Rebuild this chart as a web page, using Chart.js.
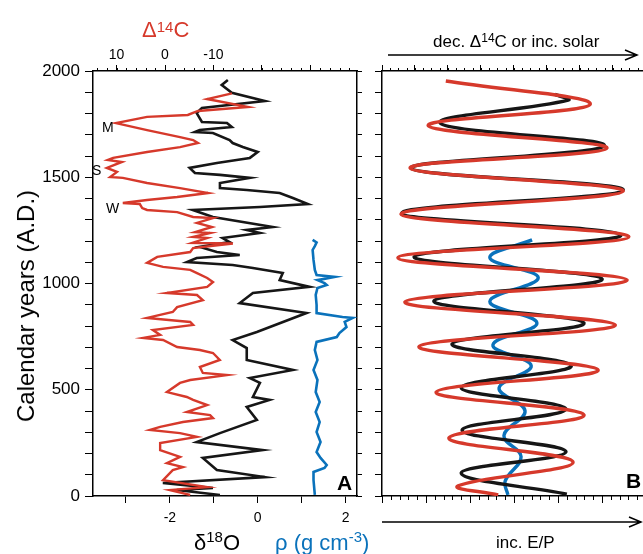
<!DOCTYPE html>
<html>
<head>
<meta charset="utf-8">
<script src="https://cdn.jsdelivr.net/npm/chart.js@4"></script>
<style>
  body { margin: 0; background: #fff; }
  #wrap { position: relative; width: 643px; height: 554px; overflow: hidden;
          font-family: "Liberation Sans", Arial, Helvetica, sans-serif; color: #000; }
  canvas { position: absolute; top: 0; }
  .t { position: absolute; white-space: nowrap; line-height: 1; }
  .sup { position: relative; }
</style>
</head>
<body>
<div id="wrap">
  <canvas id="panelA" width="372" height="554" style="left:0"></canvas>
  <canvas id="panelB" width="271" height="554" style="left:372px"></canvas>

  <div class="t" style="left:142px;top:19px;font-size:22px;color:#d6392b">&Delta;<span class="sup" style="font-size:15px;top:-5px">14</span>C</div>
  <div class="t" style="left:194px;top:532px;font-size:22px">&delta;<span class="sup" style="font-size:15px;top:-8px">18</span>O</div>
  <div class="t" style="left:275px;top:532px;font-size:22px;color:#0a72bb">&rho; (g cm<span class="sup" style="font-size:15px;top:-8px">-3</span>)</div>
  <div class="t" style="left:433px;top:33px;font-size:17px">dec. &Delta;<span class="sup" style="font-size:12px;top:-5px">14</span>C or inc. solar</div>
  <div class="t" style="left:496px;top:534px;font-size:17px">inc. E/P</div>
  <div class="t" style="left:337px;top:472px;font-size:21px;font-weight:bold">A</div>
  <div class="t" style="left:626px;top:470px;font-size:21px;font-weight:bold">B</div>
  <div class="t" style="left:102px;top:120px;font-size:14px">M</div>
  <div class="t" style="left:92px;top:163px;font-size:14px">S</div>
  <div class="t" style="left:106px;top:201px;font-size:14px">W</div>
  <div class="t" style="left:26px;top:306px;font-size:24px;transform:translate(-50%,-50%) rotate(-90deg)">Calendar years (A.D.)</div>
</div>
<script>
// panel A: red Delta14C (top axis), black d18O and blue density (bottom axis)
const redYears = [1895,1868,1831,1812,1793,1784,1755,1722,1689,1675,1661,1642,1619,1591,1581,1572,1544,1525,1501,1497,1473,1449,1426,1407,1393,1379,1374,1355,1346,1336,1313,1308,1285,1266,1242,1238,1219,1214,1191,1188,1167,1148,1125,1097,1078,1064,1049,1026,1007,984,955,946,922,889,866,838,819,805,781,758,744,734,701,687,673,640,607,579,569,546,532,489,466,452,428,395,381,367,348,325,311,296,278,249,216,184,155,136,122,75,42,28,5];
const redD14C = [-13.8,-8.7,-17.1,-6.8,-4.7,3.7,10.1,3.7,-3.1,-5.8,-6.8,-3.1,3.7,10.7,11.8,8.9,12.0,9.9,11.3,8.7,3.7,-3.1,-8.9,-2.5,3.7,8.7,5.2,4.7,3.7,-2.5,-5.8,-9.9,-6.6,-9.7,-6.2,-9.3,-5.8,-8.7,-5.6,-14.0,-5.8,-5.2,1.6,3.7,0.4,-5.2,-6.6,-8.7,-9.9,-8.7,-0.4,-6.6,-7.8,-2.5,-1.6,3.7,-5.2,-5.8,2.5,1.0,4.5,0.4,-2.5,-7.2,-9.9,-11.3,-7.2,-7.8,-12.8,-5.2,-3.1,-0.4,-4.5,-5.8,-8.7,-4.5,-9.3,-9.9,-3.7,1.0,3.1,-3.1,-6.6,1.0,1.0,-3.1,-0.4,-3.7,-1.6,0.4,-8.7,-1.0,-5.2];

const blackYears = [1958,1934,1897,1859,1826,1802,1760,1755,1736,1722,1713,1708,1675,1661,1642,1619,1591,1581,1567,1544,1520,1511,1497,1473,1449,1440,1426,1402,1374,1360,1346,1313,1266,1252,1238,1214,1195,1172,1148,1134,1120,1101,1087,1073,1049,1016,984,955,908,861,772,734,696,640,593,555,532,466,452,419,358,296,254,216,179,122,89,61,38,28,5];
const blackD18O = [-0.68,-0.82,-0.59,0.16,-1.27,-1.39,-1.27,-0.70,-0.59,-1.32,-1.43,-1.02,-0.64,-0.57,-0.34,0.0,-0.18,-0.48,-0.93,-1.55,-1.43,-0.86,-0.18,-0.86,-0.86,-0.25,0.5,0.8,1.14,0.05,-1.48,-1.02,0.34,-0.25,0.05,-0.80,-0.64,-1.32,-0.93,-0.41,-1.39,-1.61,-0.57,-0.11,0.57,0.5,1.18,-0.11,-0.41,1.11,-0.02,-0.57,-0.25,-0.25,0.8,-0.18,0.05,-0.11,0.27,-0.25,-0.02,-0.86,-1.39,0.11,-1.25,-0.93,0.16,-2.16,-1.02,-1.84,-0.86];

const blueYears = [1205,1193,1176,1158,1111,1064,1040,1031,1016,1002,993,979,946,899,861,842,838,819,795,767,748,725,687,640,593,546,489,442,395,348,301,254,207,179,146,132,113,75,5];
const blueRho = [1.25,1.34,1.30,1.25,1.27,1.30,1.34,1.75,1.36,1.52,1.57,1.36,1.32,1.34,1.34,1.93,2.16,1.98,2.02,1.86,1.80,1.34,1.30,1.36,1.27,1.36,1.32,1.41,1.32,1.41,1.34,1.43,1.34,1.43,1.57,1.52,1.27,1.27,1.30];

// panel B: smoothed curves (arbitrary units), turning points
const redBYears = [1953,1843,1743,1637,1543,1435,1327,1220,1121,1016,913,805,703,593,489,381,273,160,48,5];
const redBVal = [1.45,4.73,1.05,5.11,0.64,5.48,0.43,5.61,0.36,5.57,0.52,5.30,0.84,4.91,1.23,4.59,1.52,4.34,1.73,2.64];
const blackBYears = [1890,1863,1755,1648,1543,1440,1332,1228,1126,1021,918,814,715,613,510,409,310,208,108,9];
const blackBVal = [3.93,4.23,1.32,5.05,0.66,5.48,0.45,5.43,0.73,5.00,1.18,4.59,1.59,4.30,1.80,4.18,1.82,4.18,1.80,4.20];
const blueBYears = [1205,1121,1027,915,814,711,613,508,400,284,185,71,5];
const blueBVal = [3.41,2.45,3.55,2.45,3.52,2.52,3.39,2.66,3.25,2.77,3.16,2.80,2.86];

const yearLabels = [0, 500, 1000, 1500, 2000];
const d14cLabels = [10, 0, -10];
const d18oLabels = [-2, 0, 2];

const RED = '#d6392b', BLACK = '#161616', BLUE = '#0a72bb';

Chart.defaults.font.family = '"Liberation Sans", Arial, Helvetica, sans-serif';
Chart.defaults.color = '#000';

function pts(ys, xs) {
  return ys.map((y, i) => ({ x: xs[i], y: y }));
}

// small tick marks between the labelled ones
function minorTicks(list) {
  return {
    id: 'minorTicks',
    afterDraw(chart) {
      const ctx = chart.ctx;
      ctx.save();
      ctx.strokeStyle = '#000';
      ctx.lineWidth = 1;
      ctx.beginPath();
      list.forEach(m => {
        const s = chart.scales[m.axis];
        for (let i = 0; i <= m.n; i++) {
          const p = Math.round(s.getPixelForValue(m.from + i * m.step)) + 0.5;
          const y0 = m.side === 'top' ? chart.chartArea.top : chart.chartArea.bottom;
          ctx.moveTo(p, y0);
          ctx.lineTo(p, m.side === 'top' ? y0 - m.len : y0 + m.len);
        }
      });
      ctx.stroke();
      ctx.restore();
    }
  };
}

function axisLine(extra) {
  return Object.assign({
    type: 'linear',
    grid: { drawOnChartArea: false, color: '#000', lineWidth: 1, tickLength: 7 },
    border: { display: true, color: '#000', width: 1.5 },
  }, extra);
}

const common = {
  responsive: false,
  animation: false,
  events: [],
  layout: { padding: 0 },
  plugins: { legend: { display: false }, tooltip: { enabled: false } },
};

new Chart(document.getElementById('panelA'), {
  type: 'scatter',
  data: {
    datasets: [
      { data: pts(redYears, redD14C), xAxisID: 'xt', yAxisID: 'y', showLine: true, pointRadius: 0,
        borderColor: RED, borderWidth: 2.4 },
      { data: pts(blackYears, blackD18O), xAxisID: 'xb', yAxisID: 'y', showLine: true, pointRadius: 0,
        borderColor: BLACK, borderWidth: 2.6 },
      { data: pts(blueYears, blueRho), xAxisID: 'xb', yAxisID: 'y', showLine: true, pointRadius: 0,
        borderColor: BLUE, borderWidth: 2.6 },
    ]
  },
  options: Object.assign({}, common, {
    scales: {
      y: axisLine({
        position: 'left', min: 0, max: 2000,
        grid: { drawOnChartArea: false, color: '#000', lineWidth: 1, tickLength: 8 },
        ticks: { stepSize: 100, autoSkip: false, padding: 5, font: { size: 17 },
                 callback: v => yearLabels.includes(v) ? String(v) : '' },
        afterFit: s => { s.width = 93; }
      }),
      yr: axisLine({
        position: 'right', min: 0, max: 2000,
        grid: { drawOnChartArea: false, color: '#000', lineWidth: 1, tickLength: 5 },
        ticks: { stepSize: 100, autoSkip: false, display: false },
        afterFit: s => { s.width = 15; }
      }),
      xt: axisLine({
        position: 'top', min: -39.6, max: 14.85, reverse: true,
        grid: { drawOnChartArea: false, color: '#000', lineWidth: 1, tickLength: 6 },
        ticks: { stepSize: 10, autoSkip: false, includeBounds: false, padding: 1, font: { size: 14 },
                 maxRotation: 0, callback: v => d14cLabels.includes(v) ? String(v) : '' },
        afterFit: s => { s.height = 71; }
      }),
      xb: axisLine({
        position: 'bottom', min: -3.75, max: 2.26,
        ticks: { stepSize: 1, autoSkip: false, includeBounds: false, padding: 7, font: { size: 14 },
                 maxRotation: 0, callback: v => d18oLabels.includes(v) ? String(v) : '' },
        afterFit: s => { s.height = 58; }
      }),
    }
  }),
  plugins: [minorTicks([{ axis: 'xt', side: 'top', from: -38, step: 2, n: 26, len: 3 }])]
});

const arrows = {
  id: 'arrows',
  afterDraw(chart) {
    const ctx = chart.ctx, a = chart.chartArea;
    function arrow(x0, x1, y) {
      ctx.beginPath();
      ctx.moveTo(x0, y); ctx.lineTo(x1, y);
      ctx.moveTo(x1 - 12, y - 5); ctx.lineTo(x1, y); ctx.lineTo(x1 - 12, y + 5);
      ctx.stroke();
    }
    ctx.save();
    ctx.strokeStyle = '#000';
    ctx.lineWidth = 1.5;
    arrow(a.left + 6, a.left + 255, a.top - 16);
    arrow(a.left, a.left + 259, a.bottom + 26);
    ctx.restore();
  }
};

new Chart(document.getElementById('panelB'), {
  type: 'scatter',
  data: {
    datasets: [
      { data: pts(redBYears, redBVal), xAxisID: 'xb', yAxisID: 'y', showLine: true, pointRadius: 0,
        borderColor: RED, borderWidth: 3.4, tension: 0.4 },
      { data: pts(blackBYears, blackBVal), xAxisID: 'xb', yAxisID: 'y', showLine: true, pointRadius: 0,
        borderColor: BLACK, borderWidth: 3.4, tension: 0.4 },
      { data: pts(blueBYears, blueBVal), xAxisID: 'xb', yAxisID: 'y', showLine: true, pointRadius: 0,
        borderColor: BLUE, borderWidth: 3.4, tension: 0.4 },
    ]
  },
  options: Object.assign({}, common, {
    scales: {
      y: axisLine({
        position: 'left', min: 0, max: 2000,
        ticks: { stepSize: 100, autoSkip: false, display: false },
        afterFit: s => { s.width = 10; }
      }),
      xt: axisLine({
        position: 'top', min: 0, max: 7.91,
        grid: { drawOnChartArea: false, color: '#000', lineWidth: 1, tickLength: 6 },
        ticks: { stepSize: 1, autoSkip: false, includeBounds: false, display: false },
        afterFit: s => { s.height = 71; }
      }),
      xb: axisLine({
        position: 'bottom', min: 0, max: 5.93,
        ticks: { stepSize: 1, autoSkip: false, includeBounds: false, display: false },
        afterFit: s => { s.height = 58; }
      }),
    }
  }),
  plugins: [
    minorTicks([
      { axis: 'xt', side: 'top', from: 0, step: 0.25, n: 31, len: 3 },
      { axis: 'xb', side: 'bottom', from: 0, step: 0.2, n: 29, len: 4 }
    ]),
    arrows
  ]
});
</script>
</body>
</html>
